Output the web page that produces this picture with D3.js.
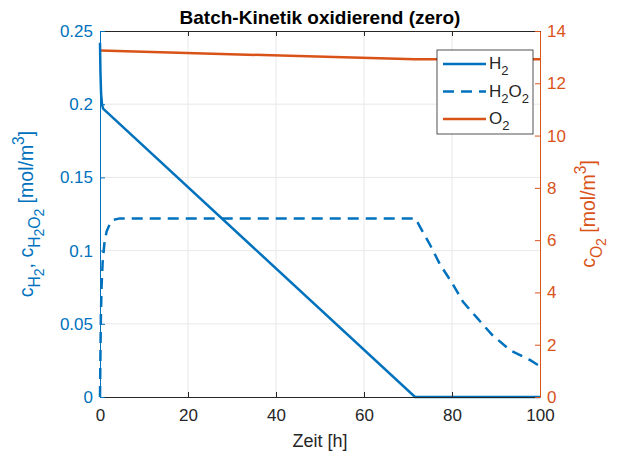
<!DOCTYPE html>
<html>
<head>
<meta charset="utf-8">
<script src="https://cdn.jsdelivr.net/npm/d3@7"></script>
<style>
  body { margin: 0; background: #fff; }
  svg { font-family: "Liberation Sans", Arial, sans-serif; }
</style>
</head>
<body>
<div id="container"></div>
<script>
// values
const h2Time = [0, 0.1, 0.25, 0.45, 0.7, 71.6, 100];
const h2Conc = [0.242, 0.222, 0.207, 0.2, 0.197, 0, 0];

const h2o2Time = [0, 0.1, 0.2, 0.35, 0.6, 1, 1.5, 2.2, 3, 4.5, 71.7, 72.7, 75, 77.3, 80, 82.5, 85.7, 89.1, 93.2, 97.7, 100];
const h2o2Conc = [0, 0.03, 0.055, 0.075, 0.092, 0.105, 0.113, 0.118, 0.121, 0.122, 0.122, 0.1164, 0.104, 0.0904, 0.078, 0.065, 0.054, 0.0425, 0.032, 0.0253, 0.021];

const o2Time = [0, 71.6, 100];
const o2Conc = [13.25, 12.92, 12.92];

const xTicks = [0, 20, 40, 60, 80, 100];
const leftTicks = [0, 0.05, 0.1, 0.15, 0.2, 0.25];
const rightTicks = [0, 2, 4, 6, 8, 10, 12, 14];

const blue = '#0072BD';
const orange = '#D95319';
const dark = '#262626';

const w = 622;
const h = 452;
const pLeft = 100, pRight = 540, pTop = 31, pBottom = 397;

const svg = d3.select('#container')
  .append('svg')
  .attr('width', w)
  .attr('height', h);

const x = d3.scaleLinear().domain([0, 100]).range([pLeft, pRight]);
const yL = d3.scaleLinear().domain([0, 0.25]).range([pBottom, pTop]);
const yR = d3.scaleLinear().domain([0, 14]).range([pBottom, pTop]);

// grid
svg.append('g')
  .selectAll('line')
  .data(xTicks.slice(1, -1))
  .enter()
  .append('line')
  .attr('x1', d => x(d)).attr('x2', d => x(d))
  .attr('y1', pTop).attr('y2', pBottom)
  .attr('stroke', '#e8e8e8');

svg.append('g')
  .selectAll('line')
  .data(leftTicks.slice(1, -1))
  .enter()
  .append('line')
  .attr('x1', pLeft).attr('x2', pRight)
  .attr('y1', d => yL(d)).attr('y2', d => yL(d))
  .attr('stroke', '#e8e8e8');

// lines
const lineL = d3.line().x(d => x(d[0])).y(d => yL(d[1]));
const lineR = d3.line().x(d => x(d[0])).y(d => yR(d[1]));

svg.append('path')
  .datum(d3.zip(o2Time, o2Conc))
  .attr('d', lineR)
  .attr('fill', 'none')
  .attr('stroke', orange)
  .attr('stroke-width', 2.5);

svg.append('path')
  .datum(d3.zip(h2Time, h2Conc))
  .attr('d', lineL)
  .attr('fill', 'none')
  .attr('stroke', blue)
  .attr('stroke-width', 2.5);

svg.append('path')
  .datum(d3.zip(h2o2Time, h2o2Conc))
  .attr('d', lineL)
  .attr('fill', 'none')
  .attr('stroke', blue)
  .attr('stroke-width', 2.5)
  .attr('stroke-dasharray', '11,7');

// axes
const fmtL = d => (d === 0 ? '0' : d3.format('~g')(d));

svg.append('g')
  .attr('transform', `translate(0,${pBottom})`)
  .attr('color', dark)
  .call(d3.axisBottom(x).tickValues(xTicks).tickSize(-5).tickSizeOuter(0).tickPadding(12))
  .call(g => g.selectAll('text').attr('font-size', 17).attr('fill', dark));

svg.append('g')
  .attr('transform', `translate(0,${pTop})`)
  .attr('color', dark)
  .call(d3.axisTop(x).tickValues(xTicks).tickSize(-5).tickSizeOuter(0).tickFormat(''));

svg.append('g')
  .attr('transform', `translate(${pLeft},0)`)
  .attr('color', blue)
  .call(d3.axisLeft(yL).tickValues(leftTicks).tickSize(-5).tickSizeOuter(0).tickPadding(7).tickFormat(fmtL))
  .call(g => g.selectAll('text').attr('font-size', 17));

svg.append('g')
  .attr('transform', `translate(${pRight},0)`)
  .attr('color', orange)
  .call(d3.axisRight(yR).tickValues(rightTicks).tickSize(-5).tickSizeOuter(0).tickPadding(7))
  .call(g => g.selectAll('text').attr('font-size', 17));

svg.selectAll('g').filter(function () { return this.hasAttribute('font-family'); })
  .attr('font-family', null);

// title
svg.append('text')
  .attr('x', (pLeft + pRight) / 2)
  .attr('y', 24)
  .attr('text-anchor', 'middle')
  .attr('font-size', 19)
  .attr('font-weight', 'bold')
  .attr('fill', '#000')
  .text('Batch-Kinetik oxidierend (zero)');

// x label
svg.append('text')
  .attr('x', (pLeft + pRight) / 2)
  .attr('y', 447)
  .attr('text-anchor', 'middle')
  .attr('font-size', 18)
  .attr('fill', dark)
  .text('Zeit [h]');

// sub/superscripts: level 0 normal, 1 sub, 2 subsub, -1 sup
function richText(sel, parts, size) {
  let cur = 0;
  parts.forEach(([txt, lvl]) => {
    const off = { 0: 0, 1: 7, 2: 11, '-1': -9 }[lvl];
    const fs = lvl === 0 ? size : lvl === 2 ? size * 0.72 : size * 0.8;
    sel.append('tspan')
      .attr('dy', off - cur)
      .attr('font-size', fs)
      .text(txt);
    cur = off;
  });
}

const yLabelL = svg.append('text')
  .attr('transform', `translate(33,${(pTop + pBottom) / 2}) rotate(-90)`)
  .attr('text-anchor', 'middle')
  .attr('fill', blue)
  .attr('font-size', 19.5);
richText(yLabelL, [['c', 0], ['H', 1], ['2', 2], [', c', 0], ['H', 1], ['2', 2], ['O', 1], ['2', 2], [' [mol/m', 0], ['3', -1], [']', 0]], 19.5);

const yLabelR = svg.append('text')
  .attr('transform', `translate(595,${(pTop + pBottom) / 2}) rotate(-90)`)
  .attr('text-anchor', 'middle')
  .attr('fill', orange)
  .attr('font-size', 19.5);
richText(yLabelR, [['c', 0], ['O', 1], ['2', 2], [' [mol/m', 0], ['3', -1], [']', 0]], 19.5);

// legend
const legendItems = [
  { sub: [['H', 0], ['2', 1]], color: blue, dash: null },
  { sub: [['H', 0], ['2', 1], ['O', 0], ['2', 1]], color: blue, dash: '11,7' },
  { sub: [['O', 0], ['2', 1]], color: orange, dash: null },
];

const lg = svg.append('g');
lg.append('rect')
  .attr('x', 437).attr('y', 50)
  .attr('width', 96).attr('height', 84)
  .attr('fill', '#fff')
  .attr('stroke', dark)
  .attr('stroke-width', 0.8);

const entry = lg.selectAll('.legend')
  .data(legendItems)
  .enter()
  .append('g')
  .attr('class', 'legend')
  .attr('transform', (d, i) => `translate(0,${64 + i * 27.5})`);

entry.append('line')
  .attr('x1', 443).attr('x2', 486)
  .attr('y1', 0).attr('y2', 0)
  .attr('stroke', d => d.color)
  .attr('stroke-width', 2.5)
  .attr('stroke-dasharray', d => d.dash);

entry.each(function (d) {
  const t = d3.select(this).append('text')
    .attr('x', 489)
    .attr('y', 5)
    .attr('fill', dark)
    .attr('font-size', 17);
  let cur = 0;
  d.sub.forEach(([txt, lvl]) => {
    const off = lvl ? 6 : 0;
    t.append('tspan')
      .attr('dy', off - cur)
      .attr('font-size', lvl ? 13 : 17)
      .text(txt);
    cur = off;
  });
});
</script>
</body>
</html>
